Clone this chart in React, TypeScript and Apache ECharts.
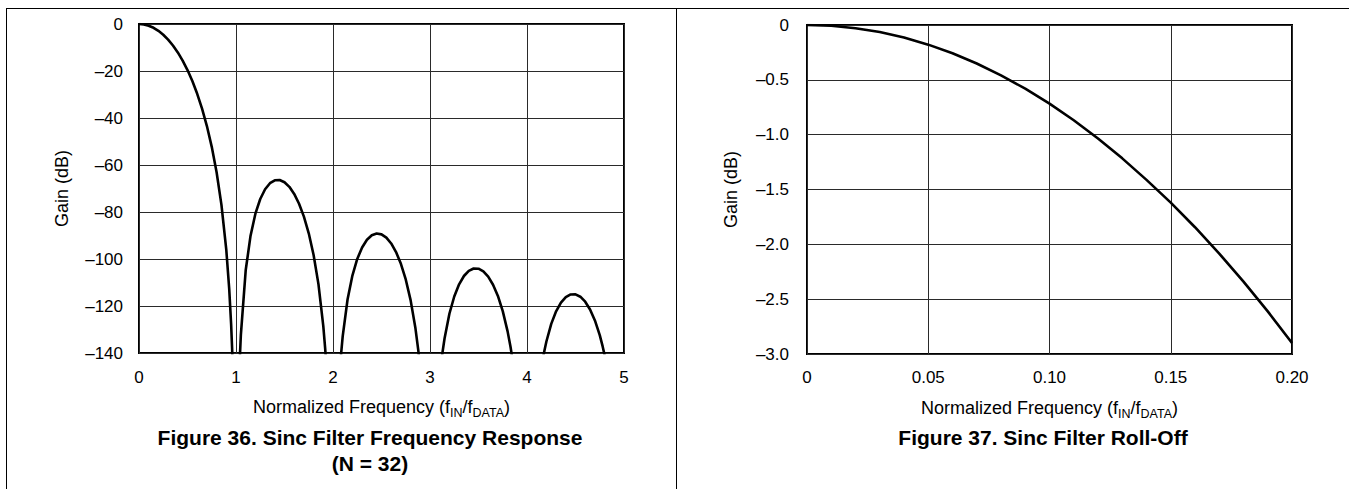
import React, { useEffect, useRef } from "react";
import * as echarts from "echarts";

// ---- Figure 36 data (frequency, gain dB), one array per lobe ----
const mainLobe: [number, number][] = [
  [0, 0], [0.05, -0.18], [0.1, -0.72], [0.15, -1.62], [0.2, -2.9], [0.25, -4.56],
  [0.3, -6.63], [0.35, -9.13], [0.4, -12.1], [0.45, -15.57], [0.5, -19.61],
  [0.55, -24.29], [0.6, -29.71], [0.65, -36.0], [0.7, -43.43], [0.75, -52.27],
  [0.8, -63.1], [0.85, -76.95], [0.9, -96.13], [0.93, -112.7], [0.95, -128.0],
  [0.96, -138.2], [0.97, -151],
];
const lobe1: [number, number][] = [
  [1.04, -141.6], [1.05, -132.4], [1.1, -104.8], [1.15, -90.08], [1.2, -80.71],
  [1.25, -74.46], [1.3, -70.31], [1.35, -67.75], [1.4, -66.51], [1.45, -66.39],
  [1.5, -67.32], [1.55, -69.29], [1.6, -72.3], [1.65, -76.47], [1.7, -81.96],
  [1.75, -89.07], [1.8, -98.32], [1.85, -110.7], [1.9, -128.6], [1.92, -138.5],
  [1.93, -144.4],
];
const lobe2: [number, number][] = [
  [2.07, -147.5], [2.08, -141.96], [2.1, -132.9], [2.15, -117.25], [2.2, -107.05],
  [2.25, -99.98], [2.3, -95.09], [2.35, -91.83], [2.4, -89.91], [2.45, -89.17],
  [2.5, -89.51], [2.55, -90.91], [2.6, -93.39], [2.65, -97.05], [2.7, -102.05],
  [2.75, -108.7], [2.8, -117.5], [2.85, -129.5], [2.88, -139.1], [2.9, -147],
];
const lobe3: [number, number][] = [
  [3.1, -149.9], [3.12, -142.5], [3.13, -139.4], [3.15, -133.85], [3.2, -123.3],
  [3.25, -115.95], [3.3, -110.77], [3.35, -107.23], [3.4, -105.04], [3.45, -104.03],
  [3.5, -104.12], [3.55, -105.27], [3.6, -107.52], [3.65, -110.95], [3.7, -115.7],
  [3.75, -122.2], [3.8, -130.8], [3.83, -137.35], [3.85, -142.6],
];
const lobe4: [number, number][] = [
  [4.15, -145.8], [4.17, -141.05], [4.18, -138.9], [4.2, -135.1], [4.25, -127.6],
  [4.3, -122.27], [4.35, -118.58], [4.4, -116.25], [4.45, -115.09], [4.5, -115.03],
  [4.55, -116.05], [4.6, -118.17], [4.65, -121.47], [4.7, -126.13], [4.75, -132.4],
  [4.78, -137.2], [4.8, -140.9],
];

// ---- Figure 37 data ----
const rollOffFreq = [
  0, 0.01, 0.02, 0.03, 0.04, 0.05, 0.06, 0.07, 0.08, 0.09, 0.1,
  0.11, 0.12, 0.13, 0.14, 0.15, 0.16, 0.17, 0.18, 0.19, 0.2,
];
const rollOffGain = [
  0, -0.007, -0.029, -0.064, -0.114, -0.179, -0.258, -0.351, -0.459, -0.581, -0.717,
  -0.869, -1.035, -1.216, -1.412, -1.62, -1.844, -2.084, -2.34, -2.611, -2.9,
];

// ---- Axis settings / text ----
const leftX = { min: 0, max: 5, interval: 1 };
const leftY = { min: -140, max: 0, interval: 20 };
const rightX = { min: 0, max: 0.2, interval: 0.05 };
const rightY = { min: -3, max: 0, interval: 0.5 };
const yName = "Gain (dB)";
const title36 = "Figure 36. Sinc Filter Frequency Response";
const title36b = "(N = 32)";
const title37 = "Figure 37. Sinc Filter Roll-Off";

const FONT = "'Liberation Sans', Arial, Helvetica, sans-serif";
const DASH = "\u2013";

export default function App() {
  const ref = useRef<HTMLDivElement>(null);
  useEffect(() => {
    if (!ref.current) return;
    const chart = echarts.init(ref.current, null, { renderer: "svg" });

    const G1 = { left: 139, top: 24, width: 485, height: 329 };
    const G2 = { left: 807, top: 25, width: 485, height: 329 };

    const splitLine = { show: true, lineStyle: { color: "#2a2a2a", width: 1 } };
    const labelBase = { color: "#000", fontSize: 17, fontFamily: FONT };

    const xTitle = (cx: number, cy: number) => ({
      type: "text",
      x: cx,
      y: cy,
      style: {
        text: "{a|Normalized Frequency (f}{s|IN}{a|/f}{s|DATA}{a|)}",
        align: "center",
        verticalAlign: "middle",
        fill: "#000",
        rich: {
          a: { fontSize: 18, fontFamily: FONT, lineHeight: 24, verticalAlign: "middle", fill: "#000" },
          s: { fontSize: 12.5, fontFamily: FONT, lineHeight: 11, verticalAlign: "bottom", fill: "#000" },
        },
      },
    });
    const yTitle = (cx: number, cy: number) => ({
      type: "text",
      x: cx,
      y: cy,
      rotation: Math.PI / 2,
      style: {
        text: yName,
        align: "center",
        verticalAlign: "middle",
        fontSize: 18,
        fontFamily: FONT,
        fill: "#000",
      },
    });
    const boldTitle = (txt: string, cx: number, cy: number) => ({
      type: "text",
      x: cx,
      y: cy,
      style: {
        text: txt,
        align: "center",
        verticalAlign: "middle",
        fontSize: 21,
        fontWeight: "bold",
        fontFamily: FONT,
        fill: "#000",
      },
    });

    const lineSeries = (data: [number, number][], idx: number) => ({
      type: "line",
      xAxisIndex: idx,
      yAxisIndex: idx,
      data,
      showSymbol: false,
      clip: true,
      lineStyle: { color: "#000", width: 2.6 },
      silent: true,
    });

    chart.setOption({
      animation: false,
      grid: [
        { ...G1, show: true, borderColor: "#000", borderWidth: 2, backgroundColor: "transparent" },
        { ...G2, show: true, borderColor: "#000", borderWidth: 2, backgroundColor: "transparent" },
      ],
      xAxis: [
        {
          type: "value", gridIndex: 0, ...leftX,
          axisLine: { show: false }, axisTick: { show: false }, splitLine,
          axisLabel: { ...labelBase, margin: 16, formatter: (v: number) => String(v) },
        },
        {
          type: "value", gridIndex: 1, ...rightX,
          axisLine: { show: false }, axisTick: { show: false }, splitLine,
          axisLabel: { ...labelBase, margin: 15, formatter: (v: number) => (v === 0 ? "0" : v.toFixed(2)) },
        },
      ],
      yAxis: [
        {
          type: "value", gridIndex: 0, ...leftY,
          axisLine: { show: false }, axisTick: { show: false }, splitLine,
          axisLabel: { ...labelBase, margin: 16, formatter: (v: number) => (v === 0 ? "0" : DASH + Math.abs(v)) },
        },
        {
          type: "value", gridIndex: 1, ...rightY,
          axisLine: { show: false }, axisTick: { show: false }, splitLine,
          axisLabel: { ...labelBase, margin: 18, formatter: (v: number) => (v === 0 ? "0" : DASH + Math.abs(v).toFixed(1)) },
        },
      ],
      series: [
        lineSeries(mainLobe, 0),
        lineSeries(lobe1, 0),
        lineSeries(lobe2, 0),
        lineSeries(lobe3, 0),
        lineSeries(lobe4, 0),
        lineSeries(rollOffFreq.map((f, i) => [f, rollOffGain[i]] as [number, number]), 1),
      ],
      graphic: [
        { type: "line", shape: { x1: 6.5, y1: 8.5, x2: 1349, y2: 8.5 }, style: { stroke: "#000", lineWidth: 1 } },
        { type: "line", shape: { x1: 6.5, y1: 8, x2: 6.5, y2: 489 }, style: { stroke: "#000", lineWidth: 1 } },
        { type: "line", shape: { x1: 676.5, y1: 8, x2: 676.5, y2: 489 }, style: { stroke: "#000", lineWidth: 1 } },
        yTitle(62, 188.5),
        yTitle(731, 189.5),
        xTitle(381.5, 407),
        xTitle(1049.5, 408),
        boldTitle(title36, 370, 437),
        boldTitle(title36b, 370, 463),
        boldTitle(title37, 1043, 437),
      ],
    });
    return () => chart.dispose();
  }, []);
  return (
    <div
      ref={ref}
      style={{ position: "absolute", left: 0, top: 0, width: 1349, height: 489 }}
    />
  );
}
